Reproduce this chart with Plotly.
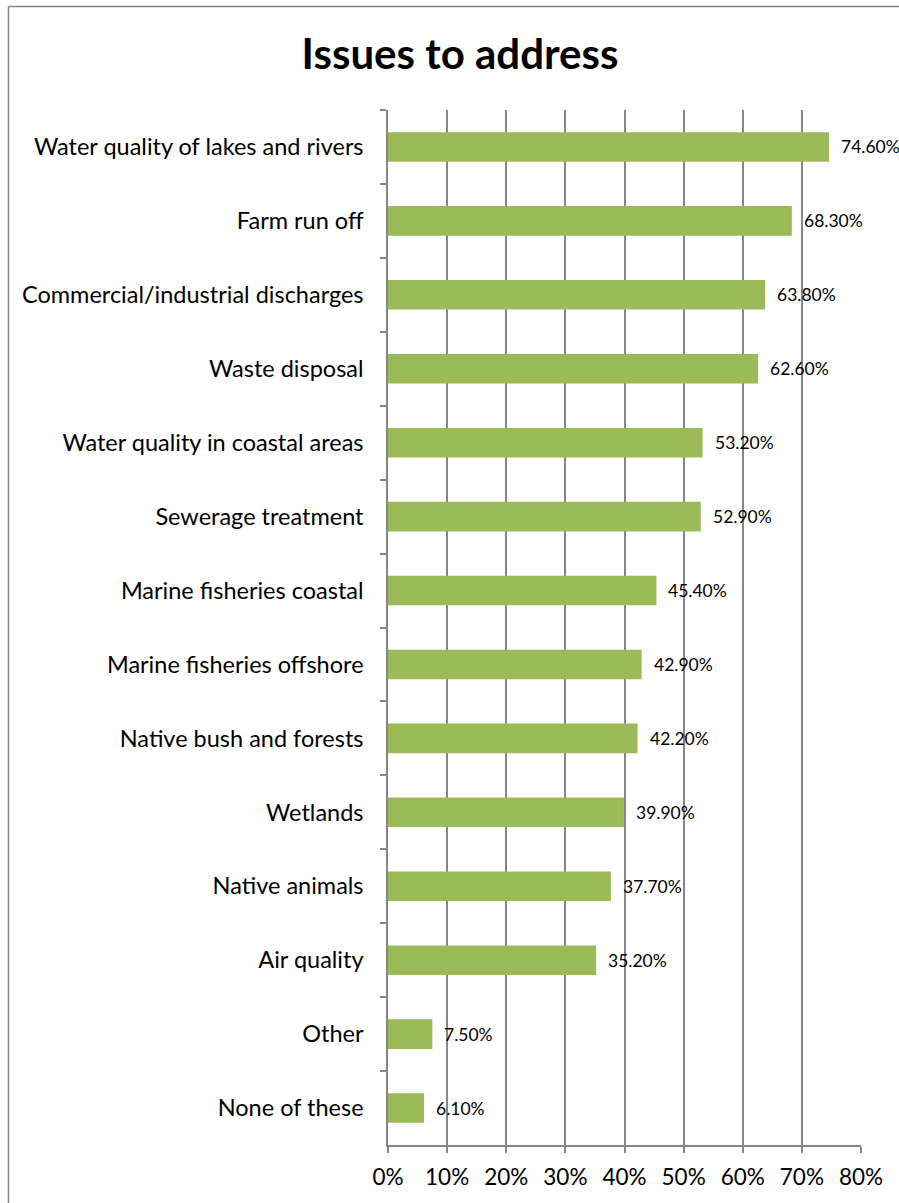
import plotly.graph_objects as go

categories = [
    "Water quality of lakes and rivers",
    "Farm run off",
    "Commercial/industrial discharges",
    "Waste disposal",
    "Water quality in coastal areas",
    "Sewerage treatment",
    "Marine fisheries coastal",
    "Marine fisheries offshore",
    "Native bush and forests",
    "Wetlands",
    "Native animals",
    "Air quality",
    "Other",
    "None of these",
]
values = [0.746, 0.683, 0.638, 0.626, 0.532, 0.529, 0.454, 0.429, 0.422, 0.399, 0.377, 0.352, 0.075, 0.061]
x_ticks = [0, 0.1, 0.2, 0.3, 0.4, 0.5, 0.6, 0.7, 0.8]
x_tick_labels = ["0%", "10%", "20%", "30%", "40%", "50%", "60%", "70%", "80%"]
title_text = "Issues to address"

W, H = 899, 1203
ML, MT = 388, 110
MR = W - 861
MB = H - 1145
pw, ph = W - ML - MR, H - MT - MB

FONT = "Lato, 'Open Sans', sans-serif"
GRAY = "#868686"

fig = go.Figure()
fig.add_trace(go.Bar(
    x=values,
    y=categories,
    orientation="h",
    marker=dict(color="#9BBB59", line=dict(width=0)),
    hoverinfo="x+y",
))

annotations = []
for c, v in zip(categories, values):
    annotations.append(dict(
        x=v, y=c, xref="x", yref="y",
        text=f"{v*100:.2f}%",
        showarrow=False, xanchor="left", yanchor="middle",
        xshift=10, yshift=0,
        font=dict(family=FONT, size=17.5, color="#000000"),
    ))

# chart-area border (left and top visible)
bx0 = (8.5 - ML) / pw
by1 = 1 + (MT - 6.5) / ph
shapes = [
    dict(type="line", xref="paper", yref="paper", x0=bx0, x1=bx0, y0=-0.2, y1=by1,
         line=dict(color=GRAY, width=1.5)),
    dict(type="line", xref="paper", yref="paper", x0=bx0, x1=1.2, y0=by1, y1=by1,
         line=dict(color=GRAY, width=1.5)),
]

fig.update_layout(
    width=W, height=H,
    margin=dict(l=ML, r=MR, t=MT, b=MB, pad=0),
    paper_bgcolor="white", plot_bgcolor="white",
    title=dict(text=f"<b>{title_text}</b>", x=460 / W, xanchor="center",
               y=1 - 54 / H, yanchor="middle",
               font=dict(family=FONT, size=42, color="#000000")),
    font=dict(family=FONT, color="#000000"),
    bargap=0.6,
    showlegend=False,
    annotations=annotations,
    shapes=shapes,
    xaxis=dict(
        range=[0, 0.8],
        tickvals=x_ticks, ticktext=x_tick_labels,
        showgrid=True, gridcolor=GRAY, gridwidth=1.5,
        zeroline=False,
        showline=True, linecolor=GRAY, linewidth=1.5,
        ticks="outside", ticklen=6, tickcolor=GRAY, tickwidth=1.5,
        ticklabelstandoff=5,
        tickfont=dict(family=FONT, size=22.5, color="#000000"),
        fixedrange=True,
    ),
    yaxis=dict(
        categoryorder="array", categoryarray=categories,
        autorange="reversed",
        showline=True, linecolor=GRAY, linewidth=1.5,
        ticks="outside", ticklen=6, tickcolor=GRAY, tickwidth=1.5,
        tickson="boundaries",
        ticklabelstandoff=18,
        tickfont=dict(family=FONT, size=23.5, color="#000000"),
        showgrid=False,
        fixedrange=True,
    ),
)

fig.write_html(
    "out.html",
    config={"displayModeBar": False},
    post_script="document.body.style.margin='0';document.body.style.overflow='hidden';",
)
